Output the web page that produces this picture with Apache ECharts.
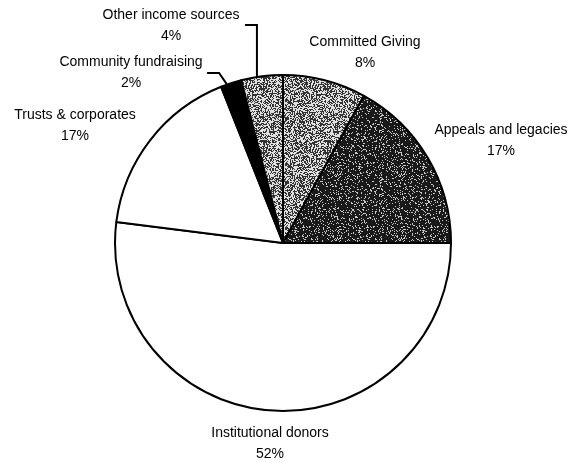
<!DOCTYPE html>
<html><head><meta charset="utf-8">
<script src="https://cdn.jsdelivr.net/npm/echarts@6/dist/echarts.min.js"></script>
<style>html,body{margin:0;padding:0;background:#fff}#c{width:574px;height:462px}</style>
</head><body><div id="c"></div>
<script>
// ---- data ----
const categories = ['Committed Giving', 'Appeals and legacies', 'Institutional donors', 'Trusts & corporates', 'Community fundraising', 'Other income sources'];
const shares = [8, 17, 52, 17, 2, 4];

// ---- layout (label anchor centres, leader-line flags) ----
const labelSpots = [[365, 53], [501, 141], [270, 444], [75, 126], [131, 73], [171, 26]];
const withLine = [false, false, false, false, true, true];

function stipple(darkProb, dark, light) {
  const n = 64, c = document.createElement('canvas');
  c.width = c.height = n;
  const ctx = c.getContext('2d'), img = ctx.createImageData(n, n);
  for (let y = 0; y < n; y++) for (let x = 0; x < n; x++) {
    let h = Math.sin(x * 12.9898 + y * 78.233) * 43758.5453; h -= Math.floor(h);
    const g = h < darkProb ? dark : light, i = (y * n + x) * 4;
    img.data[i] = img.data[i + 1] = img.data[i + 2] = g; img.data[i + 3] = 255;
  }
  ctx.putImageData(img, 0, 0);
  return c;
}
const lightTex = { image: stipple(0.50, 50, 225), repeat: 'repeat' };
const darkTex = { image: stipple(0.84, 25, 200), repeat: 'repeat' };
const fills = [lightTex, darkTex, '#ffffff', '#ffffff', '#000000', lightTex];

const CX = 283, CY = 243, R = 168;
const total = shares.reduce((a, b) => a + b, 0);
function arcPoint(idx, frac) {
  let before = 0; for (let i = 0; i < idx; i++) before += shares[i];
  const a = (before + shares[idx] * frac) / total * 2 * Math.PI;
  return [CX + R * Math.sin(a), CY - R * Math.cos(a)];
}

const chart = echarts.init(document.getElementById('c'), null, { renderer: 'canvas' });
chart.setOption({
  animation: false,
  backgroundColor: '#fff',
  series: [{
    type: 'pie',
    center: [CX, CY],
    radius: R,
    startAngle: 90,
    clockwise: true,
    avoidLabelOverlap: false,
    itemStyle: { borderColor: '#000', borderWidth: 2 },
    label: {
      show: true, position: 'outside', formatter: '{b}\n{c}%',
      fontFamily: 'Liberation Sans, Arial, sans-serif', fontSize: 14, color: '#000',
      lineHeight: 21, align: 'center'
    },
    labelLine: { show: true, lineStyle: { color: '#000', width: 2 } },
    emphasis: { disabled: true },
    labelLayout: function (p) {
      const i = p.dataIndex, s = labelSpots[i];
      const out = { x: s[0], y: s[1], align: 'center', verticalAlign: 'middle' };
      if (withLine[i]) {
        const p0 = arcPoint(i, i === 5 ? 0.38 : 0.3);
        const ly = i === 5 ? 25 : 73;
        const p1 = i === 5 ? [p0[0], ly] : [p0[0] - 8, ly];
        out.labelLinePoints = [p0, p1, [p1[0] - 12, ly]];
      }
      return out;
    },
    data: categories.map((name, i) => ({
      name: name, value: shares[i],
      itemStyle: { color: fills[i] },
      labelLine: { show: withLine[i] }
    }))
  }]
});
</script></body></html>
